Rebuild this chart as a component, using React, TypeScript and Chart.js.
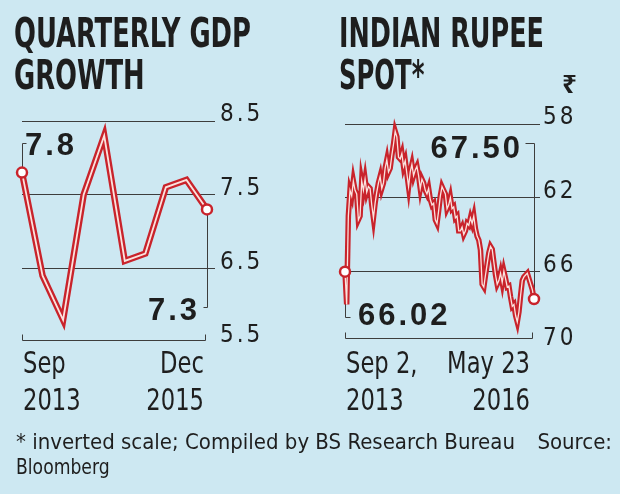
import { useEffect, useRef } from "react";
import { Chart, registerables } from "chart.js";

Chart.register(...registerables);

// ---------- data ----------
const GDP_QUARTERS = ["Sep 2013", "Dec 2013", "Mar 2014", "Jun 2014", "Sep 2014", "Dec 2014", "Mar 2015", "Jun 2015", "Sep 2015", "Dec 2015"];
const GDP_GROWTH = [7.8, 6.4, 5.8, 7.5, 8.3, 6.6, 6.7, 7.6, 7.7, 7.3];
const GDP_TICKS = [5.5, 6.5, 7.5, 8.5];
const GDP_X_LABELS = [["Sep", "2013"], ["Dec", "2015"]];

// Rupee per US dollar, evenly spaced observations from Sep 2, 2013 to May 23, 2016
const RUPEE_SPOT = [
  66.02, 67.8, 63.0, 61.6, 61.9, 61.1, 61.6, 61.8, 63.2, 63.0,
  61.1, 61.6, 61.0, 61.7, 61.4, 61.5, 62.4, 63.1, 62.3, 61.7,
  61.2, 60.85, 61.5, 61.2, 60.4, 59.95, 60.6, 60.4, 59.7, 59.1,
  58.4, 58.7, 59.8, 59.9, 59.6, 60.3, 60.0, 60.7, 61.4, 60.6,
  60.2, 60.8, 60.5, 60.3, 60.8, 61.5, 61.0, 61.2, 61.6, 61.8,
  61.5, 62.1, 62.4, 62.3, 63.2, 63.4, 62.7, 61.9, 61.4, 61.6,
  61.8, 62.6, 62.4, 62.0, 62.6, 62.5, 63.1, 63.0, 63.8, 63.8,
  63.6, 64.0, 63.8, 63.4, 63.5, 63.1, 63.4, 63.0, 63.7, 64.1,
  64.3, 64.85, 66.7, 66.85, 66.2, 65.6, 65.0, 64.65, 64.8, 65.5,
  66.2, 66.7, 66.5, 66.1, 66.6, 66.0, 66.4, 66.85, 66.8, 67.4,
  67.9, 67.8, 68.4, 68.75, 68.2, 67.3, 66.5, 66.3, 66.2, 66.1,
  66.4, 66.7, 67.0, 67.5,
];
const RUPEE_OBS = RUPEE_SPOT.map((_, i) => String(i));
const RUPEE_TICKS = [58, 62, 66, 70];
const RUPEE_X_LABELS = [["Sep 2,", "2013"], ["May 23", "2016"]];

// ---------- styles ----------
const BG = "#cde8f2";
const RED = "#c9232b";
const INNER = "#fbe2de";
const GRID = "#3d3d3d";
const TEXT = "#1e1e1e";
const NARROW = '"DejaVu Sans Condensed", "DejaVu Sans", sans-serif';
const BOLD = '"Liberation Sans", "DejaVu Sans", sans-serif';

type Panel = {
  labels: string[];
  values: number[];
  ticks: number[];
  min: number;
  max: number;
  reverse: boolean;
  decimals: number;
  tickDecimals: number;
  padding: { left: number; right: number; top: number; bottom: number };
  tickLength: number;
  tickPadding: number;
  outerWidth: number;
  innerWidth: number;
  markerRadius: number;
  bracketY: number;
  first: { x: number; baseline: number; toY: number; dx: number };
  last: { x: number; baseline: number; toY: number; dx: number };
  xLabels: string[][];
  xLeftDx: number;
  xRightDx: number;
};

function fillScaled(ctx: any, text: string, x: number, y: number, sx: number, align: string) {
  ctx.save();
  ctx.translate(x, y);
  ctx.scale(sx, 1);
  ctx.textAlign = align;
  ctx.fillText(text, 0, 0);
  ctx.restore();
}

function makeChart(canvas: HTMLCanvasElement, p: Panel) {
  const n = p.values.length;
  const hidden = p.reverse ? p.max : p.min;
  const plugin = {
    id: "panelAnnotations",
    beforeDraw(chart: any) {
      chart.ctx.letterSpacing = "3px";
    },
    beforeDatasetsDraw(chart: any) {
      const { ctx } = chart;
      const x = chart.scales.x;
      const y = chart.scales.y;
      const x0 = Math.round(x.getPixelForValue(0)) + 0.5;
      const x1 = Math.round(x.getPixelForValue(n - 1)) + 0.5;
      const y0 = y.getPixelForValue(p.values[0]);
      const y1 = y.getPixelForValue(p.values[n - 1]);
      const by = Math.round(p.bracketY) + 0.5;
      ctx.save();
      ctx.strokeStyle = GRID;
      ctx.lineWidth = 1;
      ctx.beginPath();
      ctx.moveTo(x0, by - 6);
      ctx.lineTo(x0, by);
      ctx.lineTo(x1 - 2, by);
      ctx.lineTo(x1 - 2, by - 6);
      ctx.moveTo(x0, y0);
      ctx.lineTo(x0, p.first.toY + 0.5);
      ctx.lineTo(x0 + p.first.dx, p.first.toY + 0.5);
      ctx.moveTo(x1, y1);
      ctx.lineTo(x1, p.last.toY + 0.5);
      ctx.lineTo(x1 + p.last.dx, p.last.toY + 0.5);
      ctx.stroke();
      ctx.restore();
    },
    afterDraw(chart: any) {
      const { ctx } = chart;
      const x = chart.scales.x;
      const x0 = x.getPixelForValue(0);
      const x1 = x.getPixelForValue(n - 1);
      ctx.save();
      ctx.fillStyle = TEXT;
      ctx.textBaseline = "alphabetic";
      // value labels
      ctx.font = `bold 31px ${BOLD}`;
      ctx.letterSpacing = "3px";
      ctx.textAlign = "left";
      const firstTxt = p.values[0].toFixed(p.decimals);
      const lastTxt = p.values[n - 1].toFixed(p.decimals);
      ctx.fillText(firstTxt, p.first.x, p.first.baseline);
      ctx.textAlign = "right";
      ctx.fillText(lastTxt, p.last.x + 3, p.last.baseline);
      // x-axis labels
      ctx.font = `30px ${NARROW}`;
      ctx.letterSpacing = "0px";
      const baselines = [373, 410];
      p.xLabels[0].forEach((t, i) => fillScaled(ctx, t, x0 + p.xLeftDx, baselines[i], 0.84, "left"));
      p.xLabels[1].forEach((t, i) => fillScaled(ctx, t, x1 + p.xRightDx, baselines[i], 0.84, "right"));
      ctx.restore();
    },
  };

  return new Chart(canvas, {
    type: "line",
    data: {
      labels: p.labels,
      datasets: [
        {
          data: p.values,
          borderColor: RED,
          borderWidth: p.outerWidth,
          pointRadius: 0,
          pointHoverRadius: 0,
          order: 2,
          clip: false as any,
          borderJoinStyle: "miter",
          tension: 0,
        },
        {
          data: p.values,
          borderColor: INNER,
          borderWidth: p.innerWidth,
          order: 1,
          clip: false as any,
          tension: 0,
          borderJoinStyle: "miter",
          pointRadius: (c: any) => (c.dataIndex === 0 || c.dataIndex === n - 1 ? p.markerRadius : 0),
          pointHoverRadius: 0,
          pointBackgroundColor: "#ffffff",
          pointBorderColor: RED,
          pointBorderWidth: 2.5,
        },
      ],
    },
    options: {
      animation: false,
      responsive: false,
      events: [],
      layout: { padding: p.padding },
      plugins: { legend: { display: false }, tooltip: { enabled: false } },
      scales: {
        x: { display: false },
        y: {
          position: "right",
          min: p.min,
          max: p.max,
          reverse: p.reverse,
          afterFit: (s: any) => {
            s.width = 60;
          },
          afterBuildTicks: (s: any) => {
            s.ticks = p.ticks.map((v) => ({ value: v }));
          },
          grid: {
            color: (c: any) => (c.tick && c.tick.value === hidden ? "rgba(0,0,0,0)" : GRID),
            tickColor: (c: any) => (c.tick && c.tick.value === hidden ? "rgba(0,0,0,0)" : GRID),
            lineWidth: 1,
            drawTicks: true,
            tickLength: p.tickLength,
          },
          border: { display: false },
          ticks: {
            padding: p.tickPadding,
            labelOffset: -6,
            color: TEXT,
            font: { family: NARROW, size: 24 },
            callback: (v: any) => Number(v).toFixed(p.tickDecimals),
          },
        },
      },
    },
    plugins: [plugin],
  } as any);
}

const GDP_PANEL: Panel = {
  labels: GDP_QUARTERS,
  values: GDP_GROWTH,
  ticks: GDP_TICKS,
  min: 5.5,
  max: 8.5,
  reverse: false,
  decimals: 1,
  tickDecimals: 1,
  padding: { left: 22, right: 43, top: 121, bottom: 152 },
  tickLength: 8,
  tickPadding: 5,
  outerWidth: 6.5,
  innerWidth: 1.8,
  markerRadius: 5,
  bracketY: 340,
  first: { x: 25, baseline: 155, toY: 143, dx: 4 },
  last: { x: 197, baseline: 320, toY: 307, dx: -4 },
  xLabels: GDP_X_LABELS,
  xLeftDx: 1,
  xRightDx: -3,
};

const RUPEE_PANEL: Panel = {
  labels: RUPEE_OBS,
  values: RUPEE_SPOT,
  ticks: RUPEE_TICKS,
  min: 58,
  max: 70,
  reverse: true,
  decimals: 2,
  tickDecimals: 0,
  padding: { left: 35, right: 26, top: 124, bottom: 149 },
  tickLength: 6,
  tickPadding: 3,
  outerWidth: 5.5,
  innerWidth: 1.3,
  markerRadius: 5,
  bracketY: 338,
  first: { x: 48, baseline: 325, toY: 317, dx: 5 },
  last: { x: 210, baseline: 158, toY: 143, dx: -9 },
  xLabels: RUPEE_X_LABELS,
  xLeftDx: 1,
  xRightDx: -4,
};

const titleStyle = (left: number, top: number, scale: number): any => ({
  position: "absolute",
  left,
  top,
  fontFamily: NARROW,
  fontWeight: 700,
  fontSize: 41,
  lineHeight: "42px",
  whiteSpace: "nowrap",
  transform: `scaleX(${scale})`,
  transformOrigin: "0 0",
  color: TEXT,
});

const noteStyle = (top: number, spacing: number, scale: number): any => ({
  position: "absolute",
  top,
  fontFamily: NARROW,
  fontSize: 22,
  lineHeight: "22px",
  letterSpacing: `${spacing}px`,
  whiteSpace: "nowrap",
  transform: `scaleX(${scale})`,
  color: TEXT,
});

export default function App() {
  const leftRef = useRef<HTMLCanvasElement>(null);
  const rightRef = useRef<HTMLCanvasElement>(null);

  useEffect(() => {
    const a = makeChart(leftRef.current!, GDP_PANEL);
    const b = makeChart(rightRef.current!, RUPEE_PANEL);
    return () => {
      a.destroy();
      b.destroy();
    };
  }, []);

  return (
    <div
      style={{
        position: "fixed",
        left: 0,
        top: 0,
        width: 620,
        height: 494,
        background: BG,
        overflow: "hidden",
      }}
    >
      <canvas ref={leftRef} width={310} height={494} style={{ position: "absolute", left: 0, top: 0 }} />
      <canvas ref={rightRef} width={310} height={494} style={{ position: "absolute", left: 310, top: 0 }} />
      <div style={titleStyle(14, 12, 0.7)}>QUARTERLY GDP</div>
      <div style={titleStyle(14, 54, 0.7)}>GROWTH</div>
      <div style={titleStyle(339, 12, 0.69)}>INDIAN RUPEE</div>
      <div style={titleStyle(339, 54, 0.66)}>SPOT*</div>
      <div
        style={{
          position: "absolute",
          left: 562,
          top: 70,
          fontFamily: '"Noto Sans", "DejaVu Sans", sans-serif',
          fontWeight: 700,
          fontSize: 26,
          lineHeight: "26px",
          color: TEXT,
        }}
      >
        ₹
      </div>
      <div style={{ ...noteStyle(431, 0, 1), left: 16, transformOrigin: "0 0" }}>
        * inverted scale; Compiled by BS Research Bureau
      </div>
      <div style={{ ...noteStyle(431, 0, 1), right: 8, transformOrigin: "100% 0" }}>Source:</div>
      <div style={{ ...noteStyle(456, 0, 0.87), left: 16, transformOrigin: "0 0" }}>Bloomberg</div>
    </div>
  );
}
